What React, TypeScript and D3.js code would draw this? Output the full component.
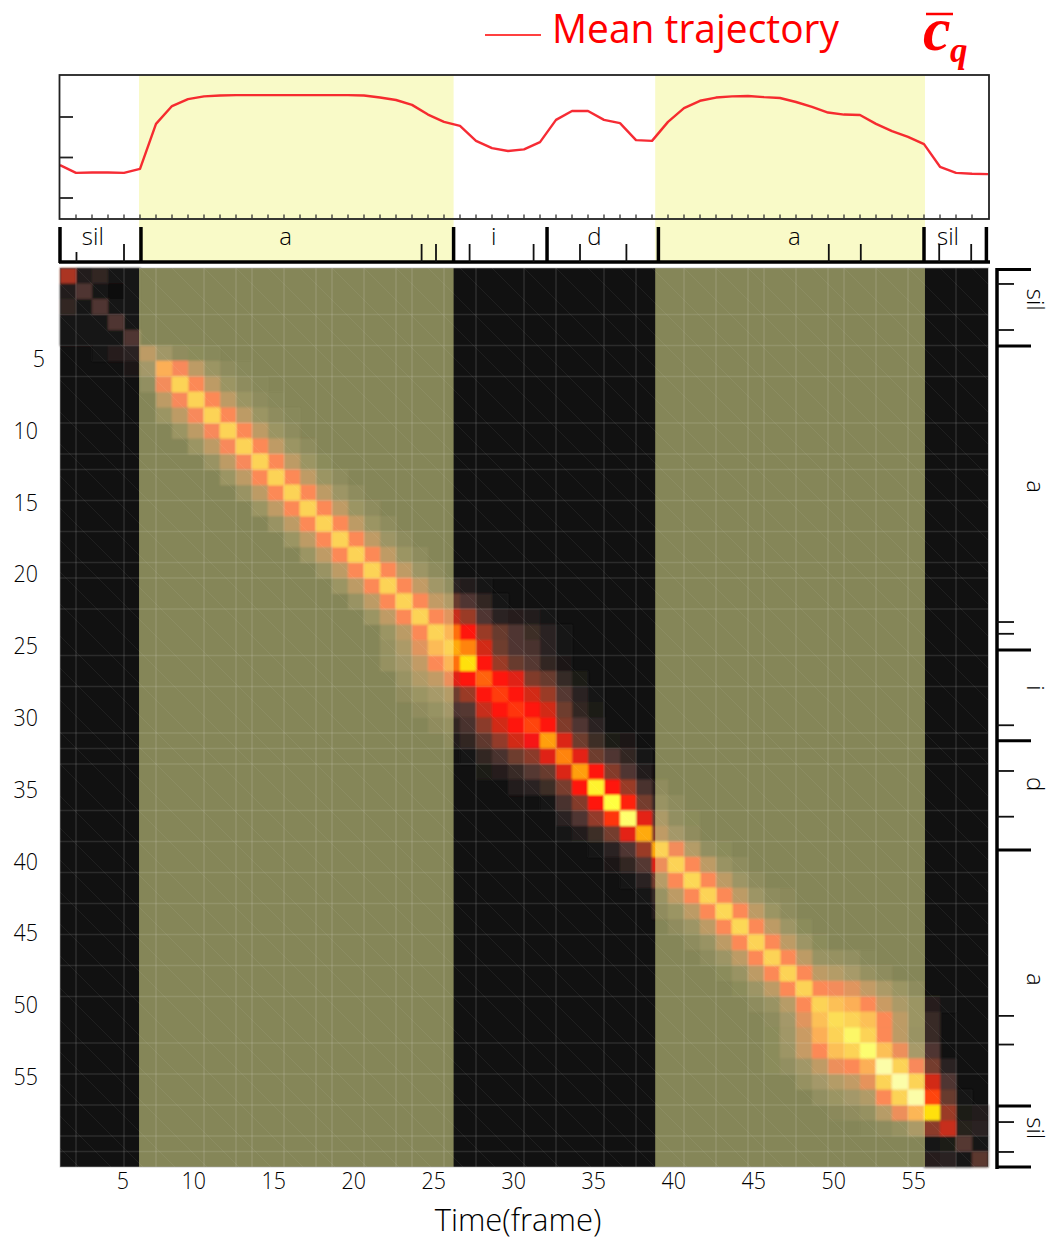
import React from "react";
import * as d3 from "d3";

const width = 1046;
const height = 1237;
const fontFamily = "'Open Sans', sans-serif";

// frame numbers and tick labels
const frames = d3.range(58);
const xTickLabels = [5, 10, 15, 20, 25, 30, 35, 40, 45, 50, 55];
const yTickLabels = [5, 10, 15, 20, 25, 30, 35, 40, 45, 50, 55];
const meanTicks = [0, 1, 2];

// mean trajectory, one value per frame boundary
const meanValues = [
  0.81, 0.62, 0.63, 0.63, 0.62, 0.72, 1.83, 2.27, 2.44, 2.51,
  2.53, 2.54, 2.54, 2.54, 2.54, 2.54, 2.54, 2.54, 2.54, 2.53,
  2.48, 2.42, 2.3, 2.06, 1.88, 1.78, 1.41, 1.23, 1.16, 1.2,
  1.38, 1.93, 2.15, 2.15, 1.93, 1.85, 1.43, 1.41, 1.88, 2.22,
  2.4, 2.48, 2.51, 2.52, 2.49, 2.47, 2.37, 2.25, 2.11, 2.06,
  2.05, 1.83, 1.65, 1.51, 1.33, 0.77, 0.62, 0.6, 0.59,
];

// segmentation, in frames
const vowelSpans = [[4.94, 24.6], [37.2, 54.06]];
const segLabels = ["sil", "a", "i", "d", "a", "sil"];
const segLabelFrames = [2.05, 14.1, 27.1, 33.4, 45.9, 55.5];
const segMajor = [0, 5.06, 24.6, 30.44, 37.4, 54.0, 57.9];
const segMinor = [1.03, 4, 22.6, 23.5, 25.6, 29.6, 32.5, 35.4, 48.05, 50.05, 54.95, 56.95];
const segMinorTall = [4, 22.6, 23.5, 25.6, 29.6, 32.5, 35.4, 48.05, 50.05, 54.95, 56.95];

// same thing down the right hand side, in rows
const sideLabelRows = [2.05, 14.1, 27.1, 33.3, 45.9, 55.5];
const sideMajor = [0.1, 5.03, 24.65, 30.5, 37.55, 54.06, 58];
const sideMinor = [1.03, 4, 22.84, 23.6, 29.5, 32.45, 35.4, 48.25, 50.1, 55.1, 57.03];

// faint grid of the original plot
const gridCols = [1, 4, 6, 9, 11, 12, 14, 16, 17, 19, 21, 22, 24, 26, 29, 31, 34, 36, 39, 41, 43, 44, 46, 48, 49, 51, 53, 56];
const gridRows = [3, 5, 7, 10, 12, 13, 15, 17, 19, 20, 22, 25, 27, 30, 31, 32, 35, 37, 39, 41, 43, 45, 47, 50, 52, 54, 56, 57];

// occupancy matrix: first column of each row, then percent values from there on
const heatStart = [
  0, 0, 0, 0, 0, 2, 4, 5, 6, 6,
  7, 8, 9, 10, 11, 12, 13, 14, 15, 16,
  17, 18, 19, 20, 20, 20, 21, 21, 22, 23,
  24, 25, 26, 28, 30, 31, 31, 33, 34, 35,
  36, 37, 38, 39, 40, 41, 42, 43, 44, 44,
  44, 44, 46, 47, 48, 50, 54, 54,
];
const heatRows = [
  [45, 7, 12, 3, 2],
  [7, 20, 2, 0, 1],
  [12, 2, 20, 1, 1],
  [1, 1, 1, 20, 2],
  [1, 1, 1, 3, 20],
  [1, 8, 10, 35, 18, 8, 5, 2],
  [4, 20, 72, 60, 35, 15, 6, 3],
  [10, 58, 85, 62, 35, 15, 6, 3],
  [35, 60, 85, 62, 35, 15, 6, 3],
  [15, 35, 60, 85, 62, 35, 15, 6, 3],
  [15, 35, 60, 85, 62, 35, 15, 6],
  [15, 35, 60, 85, 62, 36, 15, 6],
  [14, 35, 60, 85, 62, 35, 15, 5],
  [15, 35, 62, 85, 62, 36, 15, 7],
  [14, 35, 62, 85, 62, 35, 16, 6],
  [15, 36, 62, 85, 62, 36, 15, 6],
  [14, 35, 62, 85, 62, 35, 15, 6],
  [15, 35, 62, 85, 62, 36, 16, 6],
  [15, 36, 62, 85, 62, 36, 15, 7],
  [14, 35, 62, 85, 62, 36, 16, 7],
  [15, 35, 62, 85, 62, 38, 18, 10, 6, 2],
  [14, 35, 62, 85, 62, 38, 28, 20, 12, 3],
  [15, 36, 62, 85, 62, 50, 42, 20, 10, 8, 6, 3],
  [15, 34, 62, 85, 74, 62, 42, 28, 20, 15, 10, 3],
  [12, 25, 50, 76, 85, 78, 52, 30, 20, 18, 10, 3],
  [12, 20, 38, 62, 74, 90, 62, 42, 28, 22, 12, 4],
  [14, 28, 38, 55, 62, 72, 62, 55, 35, 28, 13, 5],
  [8, 15, 22, 30, 42, 62, 67, 62, 52, 42, 22, 10, 3],
  [8, 13, 20, 22, 50, 62, 66, 62, 52, 30, 12, 5],
  [8, 12, 18, 38, 52, 62, 68, 62, 35, 20, 10],
  [6, 12, 25, 40, 52, 60, 83, 54, 30, 15, 5, 4],
  [3, 12, 18, 30, 38, 55, 78, 56, 30, 20, 12, 2],
  [5, 8, 14, 22, 28, 54, 83, 62, 36, 20, 7],
  [6, 10, 15, 33, 62, 93, 62, 42, 18, 8],
  [3, 18, 36, 62, 95, 64, 32, 14, 6],
  [10, 20, 40, 66, 97, 56, 25, 10, 5],
  [2, 6, 15, 32, 56, 85, 36, 20, 8],
  [3, 10, 20, 42, 85, 58, 30, 10, 5],
  [4, 12, 22, 55, 85, 62, 35, 14, 6],
  [2, 10, 32, 62, 86, 62, 35, 16, 6],
  [3, 14, 35, 62, 85, 62, 35, 16, 7, 4],
  [8, 15, 35, 62, 86, 62, 35, 15, 6],
  [8, 16, 35, 62, 86, 62, 35, 16, 5],
  [6, 14, 35, 62, 85, 62, 35, 16, 5],
  [6, 16, 35, 62, 85, 62, 35, 14, 12, 10, 3],
  [5, 14, 35, 62, 85, 62, 35, 30, 22, 12, 6],
  [5, 16, 35, 62, 85, 62, 58, 50, 38, 25, 15, 6],
  [6, 14, 32, 62, 85, 78, 72, 62, 42, 25, 15, 8, 2],
  [6, 20, 50, 78, 87, 85, 78, 62, 35, 15, 14],
  [5, 18, 42, 72, 85, 93, 85, 62, 35, 14, 14],
  [5, 16, 40, 62, 78, 85, 95, 78, 55, 22, 20],
  [5, 10, 18, 36, 55, 62, 72, 100, 85, 60, 32, 10],
  [12, 20, 30, 38, 52, 85, 100, 85, 52, 20],
  [10, 15, 20, 28, 62, 85, 100, 68, 28, 1],
  [4, 8, 12, 32, 55, 74, 90, 42, 5, 7],
  [3, 6, 12, 24, 38, 50, 9, 10],
  [3, 5, 22, 3],
  [8, 10, 3, 24],
];

const xBand = d3.scaleBand<number>().domain(frames).range([60, 988]);
const yBand = d3.scaleBand<number>().domain(frames).range([268, 1167]);
const xFrame = d3.scaleLinear().domain([0, 58]).range([60, 988]);
const yRow = d3.scaleLinear().domain([0, 58]).range([268, 1167]);
const yMean = d3.scaleLinear().domain([0, 2]).range([198, 117]);
// the printed row numbers don't line up with the cells, they run on their own spacing
const yTickPos = d3.scaleLinear().domain([5, 55]).range([358, 1076]);

const heatColor = d3
  .scaleLinear<string>()
  .domain([0, 10, 20, 30, 42, 52, 62, 72, 85, 90, 95, 100])
  .range(["#111111", "#2a2320", "#4f3630", "#6e3c2e", "#9a3a28", "#d22a18", "#ff1410", "#ff6410", "#ffaa08", "#ffe010", "#ffff40", "#ffffb0"])
  .clamp(true);

const meanLine = d3
  .line<number>()
  .x((d, i) => xFrame(i))
  .y((d) => yMean(d));

// digits in the original are narrower than any installed face
const digitWidth = 12.2;

const App = () => {
  const cells = heatRows.flatMap((row, r) =>
    row.map((v, i) => ({ r, c: heatStart[r] + i, v }))
  );

  return (
    <svg
      width={width}
      height={height}
      style={{ position: "absolute", left: 0, top: 0, background: "#fff", fontFamily, fontWeight: 300 }}
    >
      <defs>
        <filter id="soft" x="50" y="260" width="950" height="920" filterUnits="userSpaceOnUse">
          <feGaussianBlur stdDeviation="0.8" />
        </filter>
        <pattern id="hatch" width="32" height="32" patternUnits="userSpaceOnUse">
          <path d="M0,0L32,32" stroke="#fff" strokeOpacity="0.06" strokeWidth="1" />
        </pattern>
      </defs>

      {/* legend */}
      <line x1={485} x2={541} y1={35} y2={35} stroke="#f00" strokeWidth={1.5} />
      <text x={552} y={43} fontSize={41} fontWeight={400} fill="#f00" textLength={287} lengthAdjust="spacingAndGlyphs">
        Mean trajectory
      </text>
      <g fill="#f00" fontFamily="'Liberation Serif', serif" fontWeight="bold" fontStyle="italic">
        <line x1={926} x2={953} y1={14} y2={14} stroke="#f00" strokeWidth={2.5} />
        <text x={923} y={50} fontSize={62}>c</text>
        <text x={950} y={62} fontSize={35}>q</text>
      </g>

      {/* top panel */}
      {vowelSpans.map(([a, b]) => (
        <rect key={a} x={xFrame(a)} y={75} width={xFrame(b) - xFrame(a)} height={188} fill="#f9fac8" />
      ))}
      <path d={meanLine(meanValues) ?? ""} fill="none" stroke="#f5141e" strokeWidth={2.4} strokeLinejoin="round" opacity={0.9} />
      <rect x={59.5} y={75} width={929.5} height={144} fill="none" stroke="#222" strokeWidth={1.8} />
      {meanTicks.map((t) => (
        <line key={t} x1={59} x2={73} y1={yMean(t)} y2={yMean(t)} stroke="#222" strokeWidth={1.8} />
      ))}
      {d3.range(1, 58).map((k) => (
        <line key={k} x1={xFrame(k)} x2={xFrame(k)} y1={214.5} y2={219} stroke="#333" strokeWidth={1.3} />
      ))}

      {/* segmentation strip */}
      <line x1={59} x2={990} y1={262} y2={262} stroke="#000" strokeWidth={3.5} />
      {segMajor.map((f) => (
        <line key={f} x1={xFrame(f)} x2={xFrame(f)} y1={227} y2={263} stroke="#000" strokeWidth={3.5} />
      ))}
      {segMinor.map((f) => (
        <line
          key={f}
          x1={xFrame(f)}
          x2={xFrame(f)}
          y1={segMinorTall.includes(f) ? 244 : 252}
          y2={262}
          stroke="#111"
          strokeWidth={1.8}
        />
      ))}
      {segLabels.map((s, i) => (
        <text key={i} x={xFrame(segLabelFrames[i])} y={245} fontSize={24} textAnchor="middle" fill="#000">
          {s}
        </text>
      ))}

      {/* heat map */}
      <rect x={60} y={268} width={928} height={899} fill="#111" />
      <g filter="url(#soft)">
        {cells.map((d) => (
          <rect
            key={d.r + "-" + d.c}
            x={xBand(d.c)}
            y={yBand(d.r)}
            width={xBand.bandwidth() + 0.4}
            height={yBand.bandwidth() + 0.4}
            fill={heatColor(d.v)}
          />
        ))}
      </g>
      {vowelSpans.map(([a, b]) => (
        <rect key={a} x={xFrame(a)} y={268} width={xFrame(b) - xFrame(a)} height={899} fill="rgb(249,251,160)" fillOpacity={0.5} />
      ))}
      <rect x={60} y={268} width={928} height={899} fill="url(#hatch)" />
      <g stroke="#fff" strokeOpacity={0.11} strokeWidth={1.7}>
        {gridCols.map((k) => (
          <line key={k} x1={xFrame(k)} x2={xFrame(k)} y1={268} y2={1167} />
        ))}
        {gridRows.map((k) => (
          <line key={k} x1={60} x2={988} y1={yRow(k)} y2={yRow(k)} />
        ))}
      </g>
      <rect x={60} y={268} width={928.5} height={899} fill="none" stroke="#aaa" strokeOpacity={0.6} strokeWidth={1} />

      {/* tick labels */}
      {xTickLabels.map((t) => (
        <text
          key={t}
          x={xBand(t - 1)! + (t < 10 ? 5 : 2)}
          y={1189}
          fontSize={24}
          textAnchor="end"
          textLength={String(t).length * digitWidth}
          lengthAdjust="spacingAndGlyphs"
          fill="#000"
        >
          {t}
        </text>
      ))}
      {yTickLabels.map((t) => (
        <text
          key={t}
          x={t < 10 ? 45 : 38}
          y={yTickPos(t) + 9}
          fontSize={24}
          textAnchor="end"
          textLength={String(t).length * digitWidth}
          lengthAdjust="spacingAndGlyphs"
          fill="#000"
        >
          {t}
        </text>
      ))}
      <text x={518} y={1231} fontSize={31} textAnchor="middle" fill="#000">
        Time(frame)
      </text>

      {/* segmentation down the right */}
      <line x1={997} x2={997} y1={268} y2={1169} stroke="#000" strokeWidth={3.5} />
      {sideMajor.map((r) => (
        <line key={r} x1={996} x2={1031} y1={yRow(r)} y2={yRow(r)} stroke="#000" strokeWidth={3} />
      ))}
      {sideMinor.map((r) => (
        <line key={r} x1={997} x2={1014} y1={yRow(r)} y2={yRow(r)} stroke="#111" strokeWidth={1.8} />
      ))}
      {segLabels.map((s, i) => (
        <text
          key={i}
          transform={`translate(1027,${yRow(sideLabelRows[i])}) rotate(90)`}
          fontSize={24}
          textAnchor="middle"
          fill="#000"
        >
          {s}
        </text>
      ))}
    </svg>
  );
};

export default App;
